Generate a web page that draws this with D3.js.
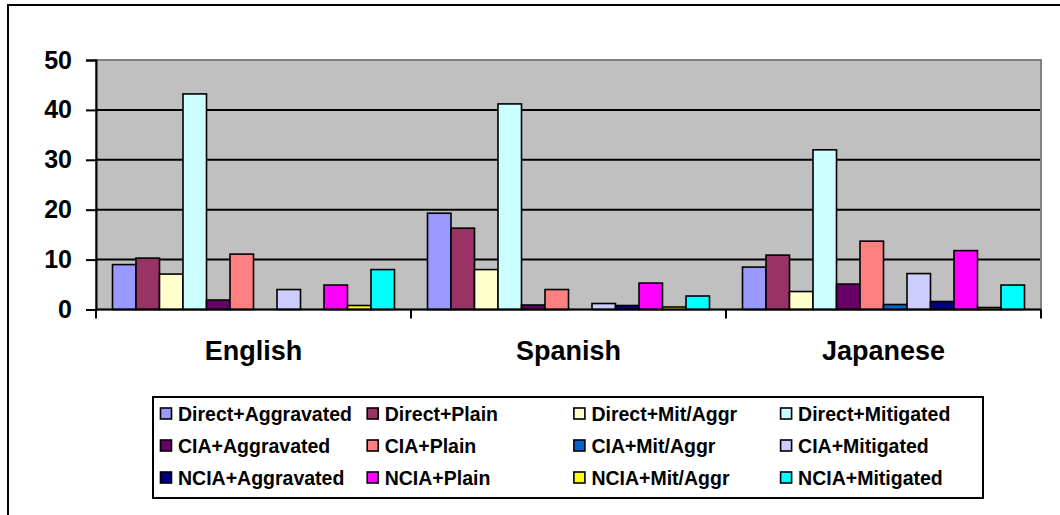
<!DOCTYPE html>
<html>
<head>
<meta charset="utf-8">
<script src="https://cdn.jsdelivr.net/npm/d3@7"></script>
<style>
  html, body { margin: 0; padding: 0; background: #ffffff; }
  svg { display: block; font-family: "Liberation Sans", Arial, sans-serif; }
</style>
</head>
<body>
<svg id="chart" width="1060" height="515"></svg>
<script>
// Languages shown along the x axis
const categories = ["English", "Spanish", "Japanese"];

// Request strategy series, in legend order
const seriesNames = [
  "Direct+Aggravated", "Direct+Plain", "Direct+Mit/Aggr", "Direct+Mitigated",
  "CIA+Aggravated", "CIA+Plain", "CIA+Mit/Aggr", "CIA+Mitigated",
  "NCIA+Aggravated", "NCIA+Plain", "NCIA+Mit/Aggr", "NCIA+Mitigated"
];

const seriesColors = [
  "#9999FF", "#993366", "#FFFFCC", "#CCFFFF",
  "#660066", "#FF8080", "#0066CC", "#CCCCFF",
  "#000080", "#FF00FF", "#FFFF00", "#00FFFF"
];

// Percentages per language, one value per series
const englishValues  = [9, 10.3, 7.1, 43.2, 1.9, 11.1, 0, 4.0, 0, 4.9, 0.8, 8.0];
const spanishValues  = [19.3, 16.3, 8.0, 41.2, 0.9, 4.0, 0, 1.2, 0.8, 5.3, 0.5, 2.7];
const japaneseValues = [8.5, 10.9, 3.6, 32.0, 5.1, 13.7, 1.0, 7.2, 1.6, 11.8, 0.4, 4.9];

const yTicks = [0, 10, 20, 30, 40, 50];

const valuesByCategory = [englishValues, spanishValues, japaneseValues];

const svg = d3.select("#chart");

// Outer chart frame (left and top edges)
svg.append("path")
  .attr("d", "M8,515 L8,5 L1060,5")
  .attr("fill", "none")
  .attr("stroke", "#000")
  .attr("stroke-width", 2);

const plot = { left: 96, right: 1041, top: 60, bottom: 309.5 };

const x0 = d3.scaleBand()
  .domain(categories)
  .range([plot.left, plot.right])
  .padding(0);

const groupGap = 16.5;
const x1 = d3.scaleBand()
  .domain(seriesNames)
  .range([groupGap, x0.bandwidth() - groupGap])
  .padding(0);

const y = d3.scaleLinear()
  .domain([0, 50])
  .range([plot.bottom, plot.top]);

// Plot area background
svg.append("rect")
  .attr("x", plot.left)
  .attr("y", plot.top)
  .attr("width", plot.right - plot.left)
  .attr("height", plot.bottom - plot.top)
  .attr("fill", "#C0C0C0")
  .attr("stroke", "#808080")
  .attr("stroke-width", 2);

// Horizontal gridlines
svg.append("g")
  .selectAll("line")
  .data(yTicks.filter(t => t > 0 && t < 50))
  .join("line")
  .attr("x1", plot.left)
  .attr("x2", plot.right - 1)
  .attr("y1", d => y(d))
  .attr("y2", d => y(d))
  .attr("stroke", "#000")
  .attr("stroke-width", 2);

// Bars
const groups = svg.append("g")
  .selectAll("g")
  .data(categories)
  .join("g")
  .attr("transform", d => `translate(${x0(d)},0)`);

groups.selectAll("rect")
  .data((d, i) => valuesByCategory[i].map((v, j) => ({ name: seriesNames[j], value: v, color: seriesColors[j] })))
  .join("rect")
  .filter(d => d.value > 0)
  .attr("x", d => x1(d.name))
  .attr("y", d => y(d.value))
  .attr("width", x1.bandwidth())
  .attr("height", d => y(0) - y(d.value))
  .attr("fill", d => d.color)
  .attr("stroke", "#000")
  .attr("stroke-width", 1.6);

// Y axis
const yAxis = svg.append("g")
  .attr("transform", `translate(${plot.left},0)`)
  .call(d3.axisLeft(y).tickValues(yTicks).tickSize(10).tickPadding(14).tickFormat(d3.format("d")));
yAxis.select(".domain").attr("stroke", "#000").attr("stroke-width", 2);
yAxis.selectAll(".tick line").attr("stroke", "#000").attr("stroke-width", 2);
yAxis.selectAll(".tick text")
  .attr("fill", "#000")
  .style("font-size", "25px")
  .style("font-weight", "bold")
  .style("font-family", "'Liberation Sans', Arial, sans-serif");

// X axis baseline, with ticks between categories
svg.append("line")
  .attr("x1", plot.left)
  .attr("x2", plot.right)
  .attr("y1", plot.bottom)
  .attr("y2", plot.bottom)
  .attr("stroke", "#000")
  .attr("stroke-width", 2);

const boundaries = categories.map(c => x0(c)).concat([x0(categories[categories.length - 1]) + x0.bandwidth()]);
svg.append("g")
  .selectAll("line")
  .data(boundaries)
  .join("line")
  .attr("x1", d => d)
  .attr("x2", d => d)
  .attr("y1", plot.bottom)
  .attr("y2", plot.bottom + 9)
  .attr("stroke", "#000")
  .attr("stroke-width", 2);

svg.append("g")
  .selectAll("text")
  .data(categories)
  .join("text")
  .attr("x", d => x0(d) + x0.bandwidth() / 2)
  .attr("y", 360)
  .attr("text-anchor", "middle")
  .style("font-size", "27px")
  .style("font-weight", "bold")
  .attr("fill", "#000")
  .text(d => d);

// Legend
const legend = svg.append("g");
legend.append("rect")
  .attr("x", 153)
  .attr("y", 397)
  .attr("width", 830)
  .attr("height", 101)
  .attr("fill", "#fff")
  .attr("stroke", "#000")
  .attr("stroke-width", 2);

const legendCols = 4;
const colX = d3.scaleLinear().domain([0, 1]).range([160, 366.7]);
const rowY = d3.scaleLinear().domain([0, 1]).range([414, 446]);

const items = legend.selectAll("g.item")
  .data(seriesNames.map((n, i) => ({ name: n, color: seriesColors[i], col: i % legendCols, row: Math.floor(i / legendCols) })))
  .join("g")
  .attr("class", "item")
  .attr("transform", d => `translate(${colX(d.col)},${rowY(d.row)})`);

items.append("rect")
  .attr("x", 0.5)
  .attr("y", -6)
  .attr("width", 11)
  .attr("height", 11)
  .attr("fill", d => d.color)
  .attr("stroke", "#000")
  .attr("stroke-width", 1.6);

items.append("text")
  .attr("x", 18)
  .attr("y", 7)
  .style("font-size", "19.5px")
  .style("font-weight", "bold")
  .attr("fill", "#000")
  .text(d => d.name);
</script>
</body>
</html>
